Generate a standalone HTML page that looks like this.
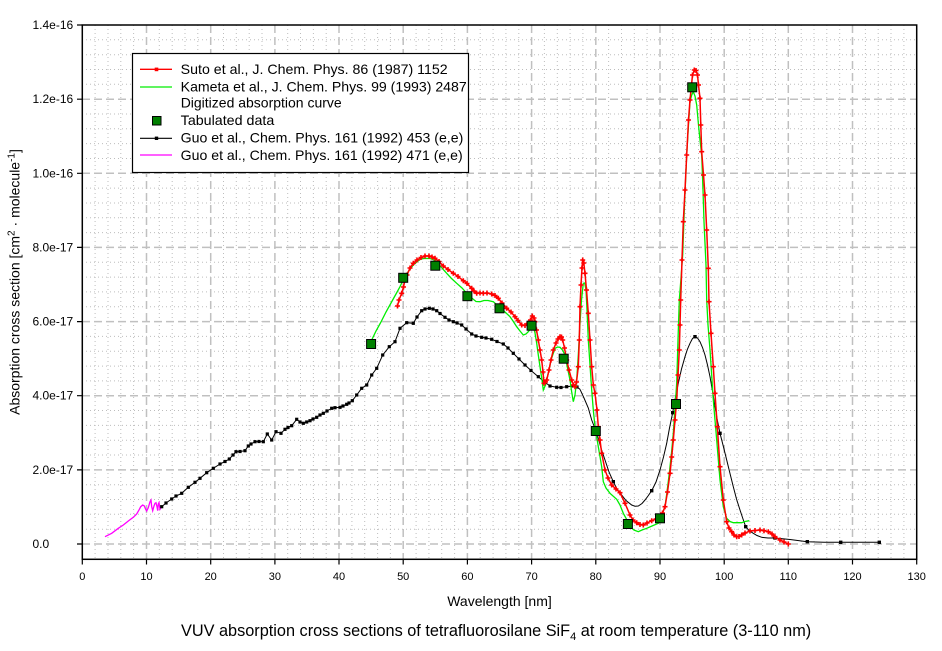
<!DOCTYPE html>
<html><head><meta charset="utf-8"><style>
html,body{margin:0;padding:0;background:#fff;}
body{width:942px;height:651px;overflow:hidden;}
svg{display:block;font-family:"Liberation Sans",Arial,sans-serif;}
</style></head><body>
<svg width="942" height="651" viewBox="0 0 942 651" xmlns="http://www.w3.org/2000/svg">
<defs>
<marker id="rp" markerUnits="userSpaceOnUse" markerWidth="6" markerHeight="6" refX="3" refY="3" overflow="visible"><path d="M0.5 3H5.5M3 0.5V5.5" stroke="#ff0000" stroke-width="1.6"/></marker>
<marker id="bk" markerUnits="userSpaceOnUse" markerWidth="4" markerHeight="4" refX="2" refY="2" overflow="visible"><rect x="0.4" y="0.4" width="3.2" height="3.2" fill="#000"/></marker>
</defs>
<rect x="0" y="0" width="942" height="651" fill="#fff"/>

<!-- minor grid vertical -->
<path fill="none" stroke="#bdbdbd" stroke-width="1" stroke-dasharray="1 3" d="M95.1 25V559M108 25V559M120.8 25V559M133.6 25V559M159.3 25V559M172.2 25V559M185 25V559M197.8 25V559M223.5 25V559M236.3 25V559M249.2 25V559M262 25V559M287.7 25V559M300.5 25V559M313.4 25V559M326.2 25V559M351.9 25V559M364.7 25V559M377.6 25V559M390.4 25V559M416.1 25V559M428.9 25V559M441.7 25V559M454.6 25V559M480.2 25V559M493.1 25V559M505.9 25V559M518.8 25V559M544.4 25V559M557.3 25V559M570.1 25V559M582.9 25V559M608.6 25V559M621.5 25V559M634.3 25V559M647.1 25V559M672.8 25V559M685.6 25V559M698.5 25V559M711.3 25V559M737 25V559M749.8 25V559M762.7 25V559M775.5 25V559M801.2 25V559M814 25V559M826.8 25V559M839.7 25V559M865.4 25V559M878.2 25V559M891 25V559M903.9 25V559"/>
<!-- minor grid horizontal -->
<path fill="none" stroke="#bdbdbd" stroke-width="1" stroke-dasharray="1 3" d="M82 529.2H917M82 514.3H917M82 499.5H917M82 484.7H917M82 455H917M82 440.2H917M82 425.4H917M82 410.5H917M82 380.9H917M82 366.1H917M82 351.2H917M82 336.4H917M82 306.8H917M82 291.9H917M82 277.1H917M82 262.3H917M82 232.6H917M82 217.8H917M82 203H917M82 188.1H917M82 158.5H917M82 143.6H917M82 128.8H917M82 114H917M82 84.3H917M82 69.5H917M82 54.7H917M82 39.8H917"/>
<!-- major grid -->
<path fill="none" stroke="#c0c0c0" stroke-width="1.5" stroke-dasharray="8 4" d="M146.5 25V559M210.7 25V559M274.9 25V559M339 25V559M403.2 25V559M467.4 25V559M531.6 25V559M595.8 25V559M660 25V559M724.2 25V559M788.3 25V559M852.5 25V559M82 544H917M82 469.9H917M82 395.7H917M82 321.6H917M82 247.4H917M82 173.3H917M82 99.2H917"/>

<!-- frame -->
<rect x="82.3" y="25" width="834.4" height="534.3" fill="none" stroke="#000" stroke-width="1.5"/>
<!-- ticks -->
<path fill="none" stroke="#000" stroke-width="1.2" d="M77 544H82.3M77 469.9H82.3M77 395.7H82.3M77 321.6H82.3M77 247.4H82.3M77 173.3H82.3M77 99.2H82.3M77 25H82.3M82.3 559.3V564.5M146.5 559.3V564.5M210.7 559.3V564.5M274.9 559.3V564.5M339 559.3V564.5M403.2 559.3V564.5M467.4 559.3V564.5M531.6 559.3V564.5M595.8 559.3V564.5M660 559.3V564.5M724.2 559.3V564.5M788.3 559.3V564.5M852.5 559.3V564.5M916.7 559.3V564.5"/>

<!-- y tick labels -->
<g font-size="12" fill="#000">
<text x="32.5" y="548">0.0</text>
<text x="32.5" y="473.9">2.0e-17</text>
<text x="32.5" y="399.7">4.0e-17</text>
<text x="32.5" y="325.6">6.0e-17</text>
<text x="32.5" y="251.4">8.0e-17</text>
<text x="32.5" y="177.3">1.0e-16</text>
<text x="32.5" y="103.2">1.2e-16</text>
<text x="32.5" y="29">1.4e-16</text>
</g>
<!-- x tick labels -->
<g font-size="11" fill="#000" text-anchor="middle">
<text x="82.3" y="580">0</text>
<text x="146.5" y="580">10</text>
<text x="210.7" y="580">20</text>
<text x="274.9" y="580">30</text>
<text x="339" y="580">40</text>
<text x="403.2" y="580">50</text>
<text x="467.4" y="580">60</text>
<text x="531.6" y="580">70</text>
<text x="595.8" y="580">80</text>
<text x="660" y="580">90</text>
<text x="724.2" y="580">100</text>
<text x="788.3" y="580">110</text>
<text x="852.5" y="580">120</text>
<text x="916.7" y="580">130</text>
</g>

<!-- axis titles -->
<text x="499.5" y="606" font-size="14" text-anchor="middle" fill="#000">Wavelength [nm]</text>
<text transform="translate(19.5,282) rotate(-90)" font-size="14" text-anchor="middle" fill="#000">Absorption cross section [cm<tspan font-size="10" dy="-5">2</tspan><tspan dy="5"> · molecule</tspan><tspan font-size="10" dy="-5">-1</tspan><tspan dy="5">]</tspan></text>
<text x="181" y="636" font-size="16.3" fill="#000">VUV absorption cross sections of tetrafluorosilane SiF<tspan font-size="11" dy="4">4</tspan><tspan dy="-4"> at room temperature (3-110 nm)</tspan></text>

<!-- Guo 471 magenta -->
<polyline fill="none" stroke="#ff00ff" stroke-width="1.3" points="105,536.7 111.7,533.3 118.3,528.3 123.3,525 128.3,521 133.3,517.3 136.7,514 139,510 140.7,506.7 142.7,505 144.3,506 145.7,509.3 146.7,511 148.3,507.7 150,501.7 151,500 151.7,506.7 152.7,510.7 154,506 155,503.3 156,502.7 157,506.7 157.7,510.7 158.3,504 159,502.7 160,509.3 161.7,506.7"/>

<!-- Guo 453 black -->
<polyline fill="none" stroke="#000" stroke-width="1" marker-start="url(#bk)" marker-mid="url(#bk)" points="161.7,506.7 166,503 171.7,499 176,496 181.7,493.3 188.3,487.3 195,482.3 200,478.3 206.7,472.7 213.3,468.3 220,464 225,461.5 229.3,459 233,455 236,451.7 240,451.5 245,450.7 248.3,446 251,444 255,441.7 259,441.5 263.3,441.7 267.3,434 271.7,440 276,431.7 281,433.3 285,429.3 288,427.5 291.7,425.7 296.7,419.3 300,422 303.3,423.3 306.7,422 310,420.7 313,419 316.7,417.3 320,415 323.3,413.3 327,411 331.7,408.3 335,407.7 340,407.3 343,406 346.7,404.3 349,403 352.3,400.7 356.7,395 361.7,388.3 366.7,385 371.7,375 376.7,368.3 382.7,355 389.3,346.7 395,341.7 400,328.3 406.7,322.7 413.3,323.3 417,317 421.7,310.7 425,309 429.3,308.3 433,309 436.7,310.7 440,313.5 445,317.3 449,320 453.3,321.7 457,323 461.7,325 466,329 471.7,334 476,336 481.7,337.3 486,338 491.7,339.3 497,341.5 503.3,344 508,348 513.3,353.3 519,359 525,365 531,370.5 538.3,376.7 544,381.5 550,386 556.7,387.3 561,387.5 566.7,386.7 573.3,386 577,387 580,389.3"/>
<polyline fill="none" stroke="#000" stroke-width="1" points="580,389.3 584,398 588.3,408 591.7,420 596.7,433 601,448 605,460 609,472 613.3,481.7 617,489 621.7,495 626,500.5 631.7,505 635,506.3 638.3,506 642,503.5 645,500 648,496 651.7,490.7 656,482 660,470 663.5,457 666.7,443.3 669.5,428 672.7,412.7 675.5,397 678.3,383.3 681.5,369 685,356.7 687.5,349 690,343.3 692.5,338.5 695,336.7 697.5,338 700,341.7 702.5,347.5 705,355 707.5,365 710,376.7 712.5,391 715,406.7 717.5,421 720,433.3 723.5,447 726.7,460 730,473.5 733.3,486.7 736.5,499 740,510 743,519 745.7,526.7 749,530.5 753.3,533.3 757,535.5 761.7,537.3 768,538 775,538 790,539.5 807.3,541.7 824,542.2 840.7,542.3 860,542.3 879.3,542.3"/>
<g fill="#000">
<rect x="595" y="431.3" width="3.4" height="3.4"/>
<rect x="611.6" y="480" width="3.4" height="3.4"/>
<rect x="650" y="489" width="3.4" height="3.4"/>
<rect x="671" y="411" width="3.4" height="3.4"/>
<rect x="693.3" y="335" width="3.4" height="3.4"/>
<rect x="718.3" y="431.6" width="3.4" height="3.4"/>
<rect x="744" y="525" width="3.4" height="3.4"/>
<rect x="773.3" y="536.3" width="3.4" height="3.4"/>
<rect x="805.6" y="540" width="3.4" height="3.4"/>
<rect x="839" y="540.6" width="3.4" height="3.4"/>
<rect x="877.6" y="540.6" width="3.4" height="3.4"/>
</g>

<!-- Kameta green -->
<polyline fill="none" stroke="#00ee00" stroke-width="1.3" points="371.7,340 376,331 381,322 386,312 391,303 396,294 400,286.7 404,278 408,272 413.3,265 418,261 421,259 425,258.3 430,258.5 433,259.5 436.7,261.7 441,267 446.7,273.3 451,278 456.7,283.3 462,288 468.3,295 473.3,299.3 476,301.5 480,301.7 484,300.5 488,300.5 493.3,301.7 497,305 500,308.3 505,312 510,316.7 513,321 516.7,326.7 520,331 523.3,335 526,334 528.3,331.7 531,328 533.3,326.7 535,333 536.7,343.3 538.3,355 540,366.7 541.7,378 543.3,390 545.5,385 548.3,373.3 551,360 555,348.3 557.5,347 560,347.3 562.5,350 565,355 567.5,368 570,380 571.7,392 573.3,401.7 575,395 576.7,380 578.3,355 580,323.3 581.5,300 583.3,283.3 584.7,283 586,290 587,310 588.3,340 590,365 591.7,390 593.3,410 595,426.7 598.3,446.7 601.7,466.7 603.3,481.7 606,488 610,493.3 616.7,499.3 620,505 623.3,513.3 627,520 630,526.7 634,530 638.3,531.7 642,530 646.7,528.3 652,526 658.3,523.3 661.5,516 665,506.7 667,492 669.3,473.3 671.5,453 673.3,433.3 675,408 676.7,383.3 678,340 679.3,300 681,278 682.7,255 684.5,205 686.7,155 688.5,125 690,101.7 691.7,95 693.3,91.7 695,96 696.7,105 698.5,125 700,140 701.7,155 703,190 704,221.7 706,265 706.7,300 708,325 710,350 711.7,375 713.3,400 716.7,440 718.5,462 720,480 723.3,506.7 726.7,518.3 730,521.5 733.3,522.7 741.7,522.7 745,521.5 749.3,520.7"/>

<!-- Suto red -->
<polyline fill="none" stroke="#ff0000" stroke-width="1.5" marker-start="url(#rp)" marker-mid="url(#rp)" marker-end="url(#rp)" points="397.5,306 399,300 401.7,293.3 403.5,287 405,280 407,275 410,268 413.3,263.3 417,260 421,257.5 425,256 429,256 432,257 435,258.3 439,261.5 443.3,266 448,269.5 453.3,273.3 458,276.5 463.3,280.7 467,283.5 471.7,288.3 474,291 476.7,293.3 480,293 483.3,293.3 487,293 491.7,294 495,295.5 498.3,298.3 502,303 506.7,308.3 511,312 515,316.7 518,320.5 521.7,325 525,325.5 528.3,323.3 530.5,320 532.3,316 534,318 535,321.7 536.5,330 538.3,340 540,350 541.7,360 543,372 544,383.3 545.5,382 546.7,380 549,370 551,360 553.3,350 556,343 558,339 560,336.7 561.5,337 562.7,340 564.5,348 566.7,360 569,370 571.7,380 573.5,385 575,386.7 576.5,382 578.3,366.7 579.3,340 580,306.7 581,285 582,268 582.7,260 583.8,263 585,273.3 586.5,290 588.3,313.3 590,340 591.7,366.7 593.3,385 595,393.3 597,410 598.3,426.7 600,440 601.7,453.3 605,470 608,478 611.7,485 616,489 620,492.7 625,503.3 630,515 633,520 636.7,522.7 640,524.5 643.3,525 647,523 651.7,520.7 656,519 660,517.3 662.5,513 665,506.7 667.5,492 670,473.3 671.7,457 673.3,440 675,420 676.7,400 678,375 679.3,350 680,325 680.7,300 682,260 683.3,221.7 685,190 686.7,155 688.5,120 690,100 691.5,85 692.5,75 694.3,70 696,70.5 697.5,75 698.5,85 700,98.3 700.8,125 701.7,151.7 703.5,175 705,195 706.7,230 708.3,268.3 709,301.7 711,333.3 713.3,366.7 715,393.3 717.3,426.7 720,466.7 723.3,500 726.7,521.7 729,528 731.7,531.7 734,535 736.7,536.7 739,536.5 741.7,535 745,533 750,531 755,530.5 760,530 764,530.7 768.3,531.7 772,534 775,536.7 780,540 784,542 788.3,544"/>

<!-- tabulated squares -->
<g fill="#008000" stroke="#000" stroke-width="1">
<rect x="366.6" y="339.5" width="9" height="9"/>
<rect x="398.7" y="273.3" width="9" height="9"/>
<rect x="430.8" y="261.2" width="9" height="9"/>
<rect x="462.9" y="291.7" width="9" height="9"/>
<rect x="495" y="303.8" width="9" height="9"/>
<rect x="527.1" y="321.2" width="9" height="9"/>
<rect x="559.2" y="354.2" width="9" height="9"/>
<rect x="591.3" y="426.5" width="9" height="9"/>
<rect x="623.4" y="519.5" width="9" height="9"/>
<rect x="655.5" y="513.8" width="9" height="9"/>
<rect x="671.5" y="399.5" width="9" height="9"/>
<rect x="687.7" y="82.8" width="9" height="9"/>
</g>

<!-- legend -->
<rect x="132.5" y="53.5" width="336" height="119" fill="#fff" stroke="#000" stroke-width="1.2"/>
<line x1="140" y1="69.3" x2="172" y2="69.3" stroke="#ff0000" stroke-width="1.3"/>
<rect x="154.7" y="67.6" width="3.6" height="3.6" fill="#ff0000"/>
<line x1="140" y1="87" x2="172" y2="87" stroke="#00ee00" stroke-width="1.3"/>
<rect x="152.5" y="116.5" width="8.5" height="8.5" fill="#008000" stroke="#000" stroke-width="1"/>
<line x1="140" y1="138.3" x2="172" y2="138.3" stroke="#000" stroke-width="1.1"/>
<rect x="154.8" y="136.6" width="3.4" height="3.4" fill="#000"/>
<line x1="140" y1="155" x2="172" y2="155" stroke="#ff00ff" stroke-width="1.3"/>
<g font-size="14" fill="#000">
<text x="180.7" y="74" textLength="267" lengthAdjust="spacingAndGlyphs">Suto et al., J. Chem. Phys. 86 (1987) 1152</text>
<text x="180.7" y="91.7" textLength="286" lengthAdjust="spacingAndGlyphs">Kameta et al., J. Chem. Phys. 99 (1993) 2487</text>
<text x="180.7" y="107.7" textLength="161" lengthAdjust="spacingAndGlyphs">Digitized absorption curve</text>
<text x="180.7" y="125" textLength="93.6" lengthAdjust="spacingAndGlyphs">Tabulated data</text>
<text x="180.7" y="142.7" textLength="282.6" lengthAdjust="spacingAndGlyphs">Guo et al., Chem. Phys. 161 (1992) 453 (e,e)</text>
<text x="180.7" y="160" textLength="282" lengthAdjust="spacingAndGlyphs">Guo et al., Chem. Phys. 161 (1992) 471 (e,e)</text>
</g>
</svg>
</body></html>
